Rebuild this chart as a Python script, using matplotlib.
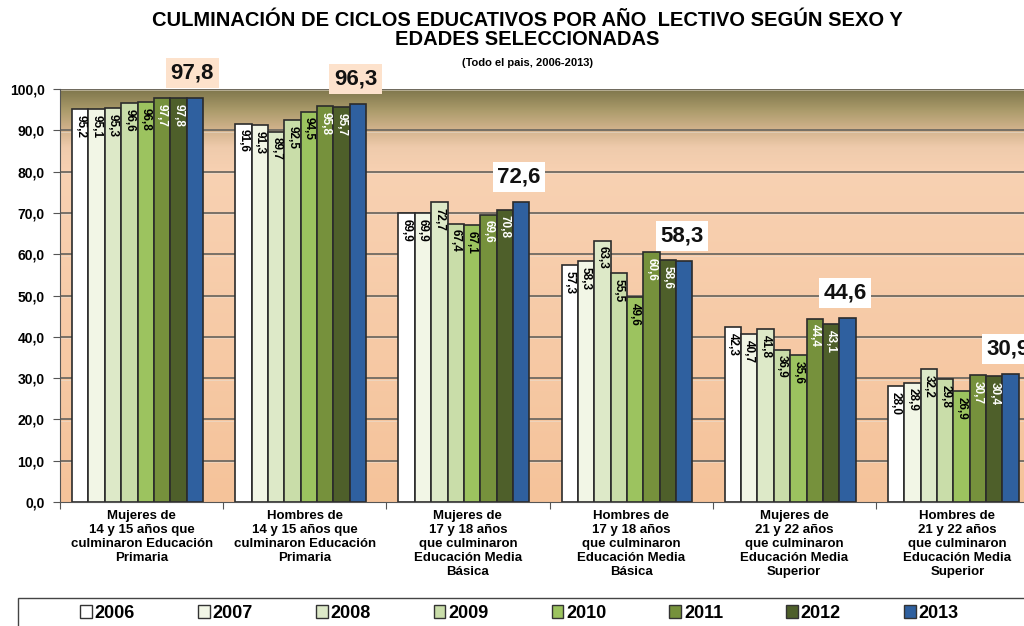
import matplotlib
matplotlib.use("Agg")
import matplotlib.pyplot as plt
import numpy as np
from matplotlib.colors import LinearSegmentedColormap
from matplotlib.patches import Patch, Rectangle

years = ["2006", "2007", "2008", "2009", "2010", "2011", "2012", "2013"]
categories = [
    "Mujeres de\n14 y 15 años que\nculminaron Educación\nPrimaria",
    "Hombres de\n14 y 15 años que\nculminaron Educación\nPrimaria",
    "Mujeres de\n17 y 18 años\nque culminaron\nEducación Media\nBásica",
    "Hombres de\n17 y 18 años\nque culminaron\nEducación Media\nBásica",
    "Mujeres de\n21 y 22 años\nque culminaron\nEducación Media\nSuperior",
    "Hombres de\n21 y 22 años\nque culminaron\nEducación Media\nSuperior",
]
v2006 = [95.2, 91.6, 69.9, 57.3, 42.3, 28.0]
v2007 = [95.1, 91.3, 69.9, 58.3, 40.7, 28.9]
v2008 = [95.3, 89.7, 72.7, 63.3, 41.8, 32.2]
v2009 = [96.6, 92.5, 67.4, 55.5, 36.9, 29.8]
v2010 = [96.8, 94.5, 67.1, 49.6, 35.6, 26.9]
v2011 = [97.7, 95.8, 69.6, 60.6, 44.4, 30.7]
v2012 = [97.8, 95.7, 70.8, 58.6, 43.1, 30.4]
v2013 = [97.8, 96.3, 72.6, 58.3, 44.6, 30.9]
series = [v2006, v2007, v2008, v2009, v2010, v2011, v2012, v2013]
yticks = [0, 10, 20, 30, 40, 50, 60, 70, 80, 90, 100]

colors = ["#ffffff", "#f2f6e6", "#dde9c8", "#c9dda9", "#9cc35f", "#76913c", "#4e5f2a", "#2f609f"]
label_colors = ["black", "black", "black", "black", "black", "white", "white", None]

BOLD = ["Liberation Sans", "DejaVu Sans"]

W, H = 1024, 626
fig = plt.figure(figsize=(W / 100, H / 100), dpi=100)
ax = fig.add_axes([60 / W, 124 / H, 979 / W, 413 / H])

# background gradient
cmap = LinearSegmentedColormap.from_list(
    "bg",
    [(0.0, "#f5c39a"), (0.8, "#f8d1b2"), (0.86, "#efcbac"), (0.9, "#d5b58f"),
     (0.95, "#ab9b6b"), (1.0, "#7f774c")])
grad = np.linspace(0, 1, 256).reshape(-1, 1)
ax.imshow(grad, extent=[0, 6, 0, 100], aspect="auto", origin="lower", cmap=cmap, zorder=0)

for y in yticks[1:]:
    ax.axhline(y, color="#6f6a62", lw=1.3, zorder=1)
    ax.axhline(y - 0.35, color="#e8e0d8", lw=0.6, zorder=1, alpha=0.6)

n = len(years)
bw = 0.1003
off = 0.074
x = np.arange(len(categories))
for i, (yr, vals) in enumerate(zip(years, series)):
    xs = x + off + (i + 0.5) * bw
    ax.bar(xs, vals, width=bw, color=colors[i], edgecolor="#2b2b2b", linewidth=1.2,
           zorder=2, label=yr)
    for xx, v in zip(xs, vals):
        lbl = f"{v:.1f}".replace(".", ",")
        if i < n - 1:
            ax.text(xx, v - 1.4, lbl, rotation=270, ha="center", va="top",
                    fontsize=8.5, fontweight="bold", color=label_colors[i],
                    family=BOLD, zorder=3)
        else:
            bx = xx - 0.015
            fc = "#fde2cc" if v > 90 else "white"
            ax.text(bx, v + 3.5, lbl, ha="center", va="bottom", fontsize=16,
                    fontweight="bold", color="#111111", family=BOLD, zorder=4,
                    clip_on=False,
                    bbox=dict(boxstyle="square,pad=0.2", fc=fc, ec="none"))

ax.set_xlim(0, 6)
ax.set_ylim(0, 100)
ax.set_yticks(yticks)
ax.set_yticklabels([f"{t:.1f}".replace(".", ",") for t in yticks],
                   fontsize=10, fontweight="bold", family=BOLD)
ax.set_xticks(np.arange(0, 7))
ax.set_xticklabels([])
ax.set_xticks(x + 0.5, minor=True)
ax.set_xticklabels(categories, minor=True, fontsize=9.5, fontweight="bold",
                   family=BOLD, linespacing=1.2)
ax.tick_params(axis="x", which="minor", length=0, pad=6)
ax.tick_params(axis="x", which="major", length=5, color="#555555")
ax.tick_params(axis="y", length=5, color="#555555", pad=6)
for s in ["top", "right"]:
    ax.spines[s].set_visible(False)
ax.spines["left"].set_color("#555555")
ax.spines["bottom"].set_color("#555555")

fig.text(0.515, 0.982, "CULMINACIÓN DE CICLOS EDUCATIVOS POR AÑO  LECTIVO SEGÚN SEXO Y\nEDADES SELECCIONADAS",
         ha="center", va="top", fontsize=14.5, fontweight="bold", family=BOLD,
         linespacing=1.0)
fig.text(0.515, 0.907, "(Todo el pais, 2006-2013)", ha="center", va="top",
         fontsize=8, fontweight="bold", family=BOLD)

# legend frame
fig.add_artist(Rectangle((18 / W, -0.05), 1.0, (H - 598) / H + 0.05,
                         transform=fig.transFigure, fc="white", ec="#444444", lw=1.0,
                         zorder=0))
handles = [Patch(facecolor=c, edgecolor="#333333", label=y) for c, y in zip(colors, years)]
leg = fig.legend(handles=handles, loc="center left", bbox_to_anchor=(80 / W, 1 - 613 / H),
                 ncol=8, frameon=False, handlelength=0.65, handleheight=0.75,
                 handletextpad=0.15, columnspacing=3.5, borderaxespad=0, borderpad=0,
                 prop=dict(family=BOLD, weight="bold", size=13))

fig.savefig("out.png", dpi=100)
